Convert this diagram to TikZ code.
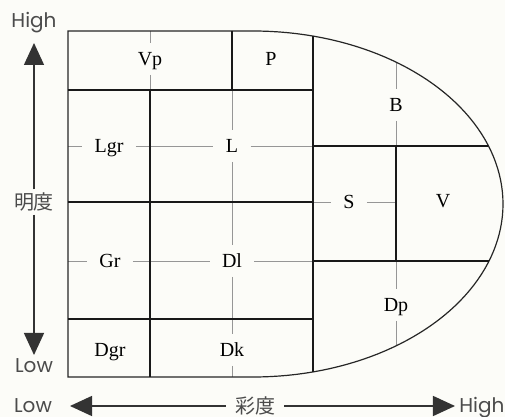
\documentclass[tikz,border=0pt]{standalone}
\usepackage{fontspec}
\setmainfont{Liberation Serif}
\newfontfamily\axisfont{Poppins}
\newfontfamily\cjkfont{Noto Sans CJK JP}
\usetikzlibrary{arrows.meta}
\definecolor{paper}{RGB}{252,252,248}
\definecolor{guidegray}{RGB}{150,150,150}
\definecolor{axisgray}{RGB}{75,75,75}

\begin{document}
\begin{tikzpicture}[x=0.5pt, y=-0.5pt,
    frame/.style={draw=black!85, line width=0.6pt},
    region/.style={draw=black!90, line width=1.1pt},
    guide/.style={draw=guidegray, line width=0.45pt},
    tone/.style={font=\fontsize{10}{12}\selectfont, text height=0.66em, text depth=0pt, inner xsep=6pt, inner ysep=4.5pt},
    axislabel/.style={font=\axisfont\fontsize{10}{12}\selectfont, text=axisgray, text height=0.7em, text depth=0pt, inner sep=0pt},
    axisname/.style={font=\cjkfont\fontsize{10}{12}\selectfont, text=axisgray, inner xsep=4.5pt, inner ysep=1.5pt},
    axis/.style={draw=black!80, line width=0.7pt, -{Triangle[length=11pt, width=10pt]}}
]
\useasboundingbox (0,0) rectangle (505,417);
\fill[paper] (0,0) rectangle (505,417);

% tone names
\node[tone] (vp) at (150,59) {Vp};
\node[tone] (p) at (271,59) {P};
\node[tone] (b) at (396,105) {B};
\node[tone] (lgr) at (109,146) {Lgr};
\node[tone] (l) at (232,146) {L};
\node[tone] (s) at (349,202) {S};
\node[tone] (v) at (443,201) {V};
\node[tone] (gr) at (110,261) {Gr};
\node[tone] (dl) at (232,261) {Dl};
\node[tone] (dp) at (396,305) {Dp};
\node[tone] (dgr) at (110,350) {Dgr};
\node[tone] (dk) at (232,350) {Dk};

% guide lines through the tone centres
\coordinate (vpT) at (150,31);
\coordinate (vpB) at (150,90);
\coordinate (midT) at (232,90);
\coordinate (midB) at (232,377);
\coordinate (upL) at (68,146);
\coordinate (upR) at (313,146);
\coordinate (loL) at (68,261);
\coordinate (loR) at (313,261);
\coordinate (bT) at (396,62);
\coordinate (bB) at (396,146);
\coordinate (dpT) at (396,261);
\coordinate (dpB) at (396,345.5);
\coordinate (sL) at (313,202);
\coordinate (sR) at (396,202);
\draw[guide] (vpT) -- (vp) -- (vpB);
\draw[guide] (midT) -- (l) -- (dl) -- (dk) -- (midB);
\draw[guide] (upL) -- (lgr) -- (l) -- (upR);
\draw[guide] (loL) -- (gr) -- (dl) -- (loR);
\draw[guide] (bT) -- (b) -- (bB);
\draw[guide] (dpT) -- (dp) -- (dpB);
\draw[guide] (sL) -- (s) -- (sR);

% outline
\draw[frame] (68,31) -- (253,31)
  -- plot[domain=-90:90, samples=91] ({253+250*cos(\x)}, {204+173*sin(\x)})
  -- (68,377) -- cycle;

% tone borders
\draw[region] (68,90) -- (313,90);
\draw[region] (232,31) -- (232,90);
\draw[region] (150,90) -- (150,377);
\draw[region] (68,202) -- (313,202);
\draw[region] (68,319) -- (313,319);
\draw[region] (313,36) -- (313,372);
\draw[region] (313,146) -- (488.5,146);
\draw[region] (313,261) -- (489,261);
\draw[region] (396,146) -- (396,261);

% lightness axis
\node[axislabel] (hiV) at (34,21) {High};
\node[axislabel] (loV) at (34,366) {Low};
\node[axisname] (bri) at (34,202) {明度};
\coordinate (briT) at (34,43);
\coordinate (briB) at (34,355);
\draw[axis] (bri) -- (briT);
\draw[axis] (bri) -- (briB);

% chroma axis
\node[axislabel] (loH) at (33,406) {Low};
\node[axislabel, anchor=west] (hiH) at (459,406) {High};
\node[axisname] (chr) at (255,406) {彩度};
\coordinate (chrL) at (70,406);
\coordinate (chrR) at (455,406);
\draw[axis] (chr) -- (chrL);
\draw[axis] (chr) -- (chrR);
\end{tikzpicture}
\end{document}
